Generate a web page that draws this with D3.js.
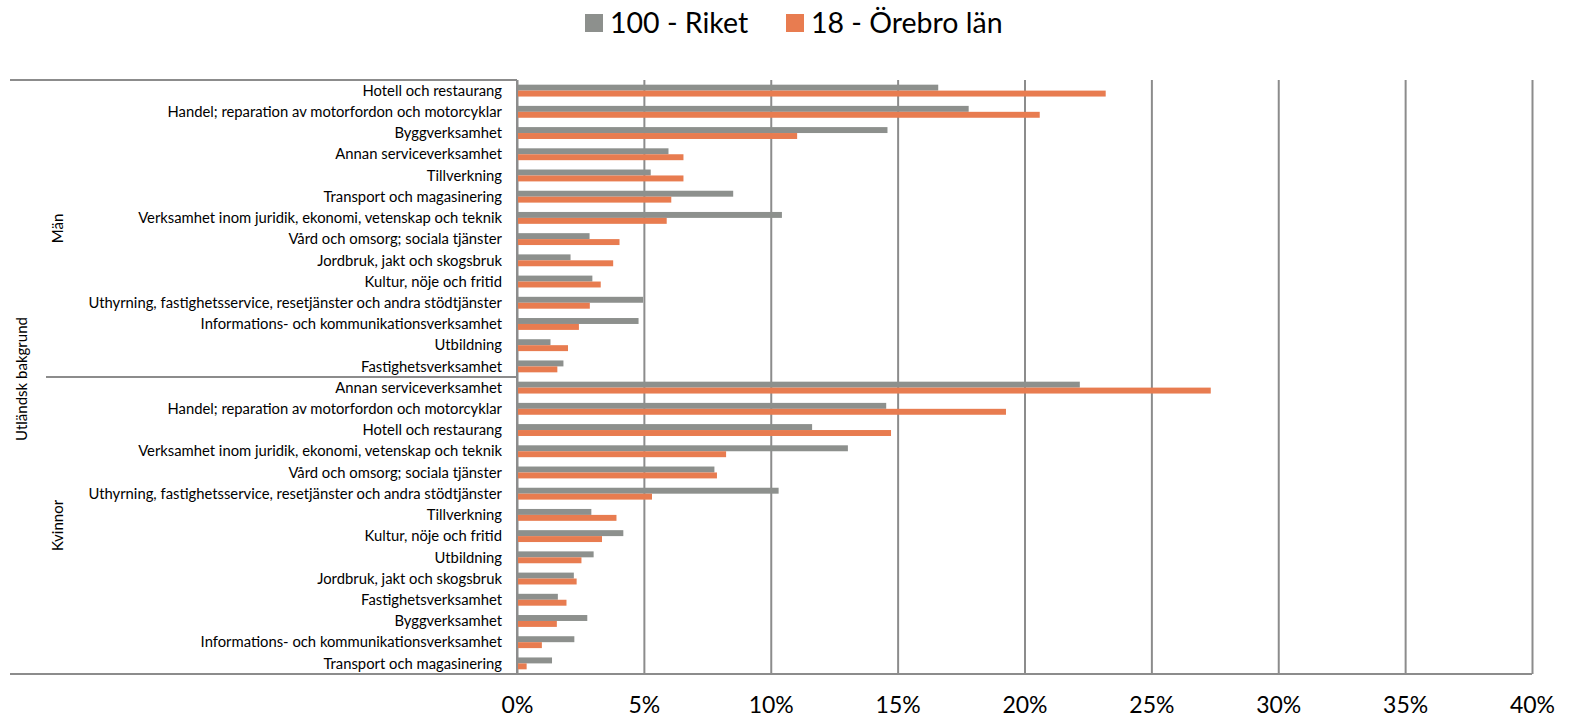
<!DOCTYPE html>
<html>
<head>
<meta charset="utf-8">
<script src="https://cdn.jsdelivr.net/npm/d3@7"></script>
<style>
  html, body { margin: 0; padding: 0; background: #fff; }
  svg { display: block; }
  text { font-family: Lato, "Open Sans", "Liberation Sans", sans-serif; fill: #000; }
</style>
</head>
<body>
<svg id="chart" width="1569" height="718"></svg>
<script>
// ---- Data ----
const seriesNames = ["100 - Riket", "18 - Örebro län"];
const outerGroup = "Utländsk bakgrund";
const groups = ["Män", "Kvinnor"];

const manCategories = [
  "Hotell och restaurang",
  "Handel; reparation av motorfordon och motorcyklar",
  "Byggverksamhet",
  "Annan serviceverksamhet",
  "Tillverkning",
  "Transport och magasinering",
  "Verksamhet inom juridik, ekonomi, vetenskap och teknik",
  "Vård och omsorg; sociala tjänster",
  "Jordbruk, jakt och skogsbruk",
  "Kultur, nöje och fritid",
  "Uthyrning, fastighetsservice, resetjänster och andra stödtjänster",
  "Informations- och kommunikationsverksamhet",
  "Utbildning",
  "Fastighetsverksamhet"
];
const manRiket   = [16.6, 17.8, 14.6, 5.97, 5.27, 8.52, 10.44, 2.86, 2.11, 2.97, 4.97, 4.79, 1.32, 1.83];
const manOrebro  = [23.2, 20.6, 11.04, 6.56, 6.56, 6.08, 5.90, 4.04, 3.79, 3.30, 2.87, 2.44, 2.01, 1.59];

const kvinCategories = [
  "Annan serviceverksamhet",
  "Handel; reparation av motorfordon och motorcyklar",
  "Hotell och restaurang",
  "Verksamhet inom juridik, ekonomi, vetenskap och teknik",
  "Vård och omsorg; sociala tjänster",
  "Uthyrning, fastighetsservice, resetjänster och andra stödtjänster",
  "Tillverkning",
  "Kultur, nöje och fritid",
  "Utbildning",
  "Jordbruk, jakt och skogsbruk",
  "Fastighetsverksamhet",
  "Byggverksamhet",
  "Informations- och kommunikationsverksamhet",
  "Transport och magasinering"
];
const kvinRiket  = [22.18, 14.55, 11.63, 13.04, 7.78, 10.31, 2.93, 4.19, 3.02, 2.24, 1.61, 2.77, 2.26, 1.38];
const kvinOrebro = [27.34, 19.27, 14.74, 8.24, 7.88, 5.32, 3.92, 3.35, 2.54, 2.35, 1.95, 1.57, 0.98, 0.38];

const xTicks = [0, 5, 10, 15, 20, 25, 30, 35, 40];

// ---- Build rows ----
const rows = [];
manCategories.forEach((c, i) => rows.push({ key: "m" + i, group: groups[0], cat: c, vals: [manRiket[i], manOrebro[i]] }));
kvinCategories.forEach((c, i) => rows.push({ key: "k" + i, group: groups[1], cat: c, vals: [kvinRiket[i], kvinOrebro[i]] }));

// ---- Layout ----
const colors = ["#8D908D", "#E87C50"];
const gridColor = "#8C8C8C";
const pLeft = 517, pRight = 1532, pTop = 80, pBottom = 674;

const svg = d3.select("#chart");
const x = d3.scaleLinear().domain([0, 40]).range([pLeft, pRight]);
const y = d3.scaleBand().domain(rows.map(r => r.key)).range([pTop, pBottom]).paddingInner(0.44).paddingOuter(0.22);
const ySub = d3.scaleBand().domain([0, 1]).range([0, y.bandwidth()]);

// gridlines
svg.append("g")
  .attr("transform", `translate(0,${pBottom})`)
  .call(d3.axisBottom(x).tickValues(xTicks).tickSize(-(pBottom - pTop)).tickFormat(""))
  .call(g => g.select(".domain").remove())
  .call(g => g.selectAll(".tick line").attr("stroke", gridColor).attr("stroke-width", 2));

// bars
const rowG = svg.append("g").selectAll("g").data(rows).join("g")
  .attr("transform", d => `translate(0,${y(d.key)})`);
rowG.selectAll("rect").data(d => d.vals.map((v, i) => ({ v, i }))).join("rect")
  .attr("x", x(0))
  .attr("y", d => ySub(d.i))
  .attr("width", d => x(d.v) - x(0))
  .attr("height", ySub.bandwidth())
  .attr("fill", d => colors[d.i]);

// category axis line at 0
svg.append("line").attr("x1", x(0)).attr("x2", x(0)).attr("y1", pTop).attr("y2", pBottom)
  .attr("stroke", gridColor).attr("stroke-width", 2);

// x axis labels
svg.append("g")
  .attr("transform", `translate(0,${pBottom})`)
  .call(d3.axisBottom(x).tickValues(xTicks).tickSize(0).tickPadding(23).tickFormat(d => d + "%"))
  .call(g => g.select(".domain").remove())
  .call(g => g.selectAll("text").attr("font-size", 23).attr("font-family", "Lato, 'Open Sans', sans-serif").attr("fill", "#000"));

// hierarchy lines
svg.append("line").attr("x1", 10).attr("x2", x(0)).attr("y1", pTop).attr("y2", pTop).attr("stroke", gridColor).attr("stroke-width", 2);
svg.append("line").attr("x1", 10).attr("x2", pRight).attr("y1", pBottom).attr("y2", pBottom).attr("stroke", gridColor).attr("stroke-width", 2);
const sepY = y(rows[manCategories.length].key) - y.step() * y.paddingInner() / 2;
svg.append("line").attr("x1", 46).attr("x2", x(0)).attr("y1", sepY).attr("y2", sepY).attr("stroke", gridColor).attr("stroke-width", 2);

// category labels
svg.append("g").selectAll("text").data(rows).join("text")
  .attr("x", 502)
  .attr("y", d => y(d.key) + y.bandwidth() / 2)
  .attr("dy", "0.35em")
  .attr("text-anchor", "end")
  .attr("font-size", 14.8)
  .text(d => d.cat);

// group labels
const groupCenters = [(pTop + sepY) / 2, (sepY + pBottom) / 2];
groups.forEach((g, i) => {
  svg.append("text")
    .attr("transform", `translate(58,${groupCenters[i]}) rotate(-90)`)
    .attr("text-anchor", "middle").attr("dy", "0.35em")
    .attr("font-size", 15)
    .text(g);
});
svg.append("text")
  .attr("transform", `translate(22,${(pTop + pBottom) / 2 + 2}) rotate(-90)`)
  .attr("text-anchor", "middle").attr("dy", "0.35em")
  .attr("font-size", 15)
  .text(outerGroup);

// legend
const legend = svg.append("g");
const legendX = [585, 786];
seriesNames.forEach((s, i) => {
  legend.append("rect").attr("x", legendX[i]).attr("y", 14).attr("width", 18).attr("height", 18).attr("fill", colors[i]);
  legend.append("text").attr("x", legendX[i] + 25).attr("y", 23).attr("dy", "0.35em")
    .attr("font-size", 28.5).text(s);
});
</script>
</body>
</html>
